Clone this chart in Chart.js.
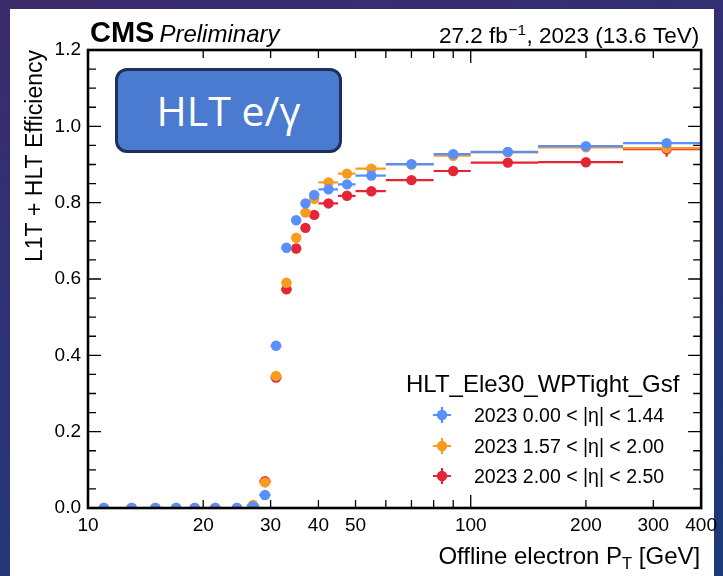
<!DOCTYPE html>
<html><head><meta charset="utf-8">
<script src="https://cdn.jsdelivr.net/npm/chart.js@4.4.1/dist/chart.umd.min.js"></script>
<style>
html,body{margin:0;padding:0;width:723px;height:576px;overflow:hidden;}
body{background:linear-gradient(165deg,#3b2a6c 0%,#2c3277 45%,#1c3a78 100%);position:relative;}
#panel{position:absolute;left:10px;top:9px;width:704px;height:567px;background:#fff;}
#c{position:absolute;left:0;top:0;}
#box{position:absolute;left:115px;top:68px;width:227px;height:85px;box-sizing:border-box;
 border:3px solid #1d3158;border-radius:12px;background:#4a7bd1;color:#fff;
 font-family:"Open Sans",sans-serif;font-size:41px;line-height:79px;text-align:center;}
</style></head><body>
<div id="panel"></div>
<canvas id="c" width="723" height="576"></canvas>
<div id="box">HLT e/γ</div>
<script>
const binEdges   = [10,12,14,16,18,20,23,26,28,30,32,34,36,38,40,45,50,60,80,100,150,250,400];
const binCenters = [11,13,15,17,19,21.5,24.5,27,29,31,33,35,37,39,42.5,47.5,55,70,90,125,200,325];
const effEta1 = [0,0,0,0,0,0,0,0.005,0.034,0.425,0.682,0.754,0.798,0.820,0.835,0.848,0.871,0.901,0.927,0.933,0.948,0.956];
const effEta2 = [0,0,0,0,0,0,0,0.008,0.067,0.346,0.590,0.708,0.774,0.810,0.853,0.876,0.889,0.900,0.923,0.932,0.945,0.943];
const effEta3 = [0,0,0,0,0,0,0,0.003,0.070,0.342,0.573,0.680,0.734,0.768,0.798,0.818,0.830,0.859,0.883,0.905,0.906,0.940];
const errEta1 = [0,0,0,0,0,0,0,0.002,0.004,0.006,0.006,0.005,0.005,0.004,0.003,0.003,0.002,0.002,0.003,0.003,0.005,0.008];
const errEta2 = [0,0,0,0,0,0,0,0.003,0.006,0.009,0.009,0.008,0.007,0.006,0.005,0.005,0.004,0.004,0.005,0.006,0.008,0.012];
const errEta3 = [0,0,0,0,0,0,0,0.002,0.006,0.009,0.009,0.008,0.007,0.006,0.005,0.005,0.004,0.004,0.005,0.006,0.009,0.020];
const seriesLabels = ["2023 0.00 < |η| < 1.44","2023 1.57 < |η| < 2.00","2023 2.00 < |η| < 2.50"];
const seriesColors = ["#5790fc","#f89c20","#e42536"];
const xTickValues = [10,20,30,40,50,60,70,80,90,100,200,300,400];
const xTickLabels = [10,20,30,40,50,100,200,300,400];
const yTickStep = 0.05;
const yMajorStep = 0.2;
const legendTitle = "HLT_Ele30_WPTight_Gsf";

const FONT = '"Liberation Sans", Arial, sans-serif';

function mk(eff, err, i){
  return {label: seriesLabels[i], data: eff.map((v,k)=>({x: binCenters[k], y: v})), yErr: err,
    backgroundColor: seriesColors[i], borderColor: seriesColors[i], pointRadius: 5.2, pointHoverRadius: 5.2,
    pointBorderWidth: 0, showLine: false, clip: 0};
}

const errorBars = {
  id:'errorBars',
  beforeDatasetDraw(chart, args){
    const ds = chart.data.datasets[args.index];
    const xs = chart.scales.x, ys = chart.scales.y, ctx = chart.ctx, a = chart.chartArea;
    ctx.save();
    ctx.beginPath(); ctx.rect(a.left, a.top, a.right-a.left, a.bottom-a.top); ctx.clip();
    ctx.strokeStyle = ds.borderColor; ctx.lineWidth = 2.2;
    ds.data.forEach((p,i)=>{
      const x0 = xs.getPixelForValue(binEdges[i]), x1 = xs.getPixelForValue(binEdges[i+1]);
      const xc = xs.getPixelForValue(p.x), y = ys.getPixelForValue(p.y);
      ctx.beginPath(); ctx.moveTo(x0, y); ctx.lineTo(x1, y); ctx.stroke();
      const e = ds.yErr[i];
      if (e > 0) {
        ctx.beginPath(); ctx.moveTo(xc, ys.getPixelForValue(p.y - e)); ctx.lineTo(xc, ys.getPixelForValue(p.y + e)); ctx.stroke();
      }
    });
    ctx.restore();
  }
};

function isDecade(v){ const l = Math.log10(v); return Math.abs(l - Math.round(l)) < 1e-9; }
function isYMajor(v){ const r = v / yMajorStep; return Math.abs(r - Math.round(r)) < 1e-6; }

const frame = {
  id:'frame',
  afterDraw(chart){
    const ctx = chart.ctx, a = chart.chartArea, xs = chart.scales.x, ys = chart.scales.y;
    ctx.save();
    ctx.strokeStyle = '#000'; ctx.lineWidth = 1.3;
    xs.ticks.forEach(t=>{
      const px = xs.getPixelForValue(t.value);
      if (px <= a.left + 1 || px >= a.right - 1) return;
      const L = isDecade(t.value) ? 13 : 8;
      ctx.beginPath(); ctx.moveTo(px, a.bottom); ctx.lineTo(px, a.bottom - L);
      ctx.moveTo(px, a.top); ctx.lineTo(px, a.top + L); ctx.stroke();
    });
    ys.ticks.forEach(t=>{
      const py = ys.getPixelForValue(t.value);
      if (py <= a.top + 1 || py >= a.bottom - 1) return;
      const L = isYMajor(t.value) ? 13 : 8;
      ctx.beginPath(); ctx.moveTo(a.left, py); ctx.lineTo(a.left + L, py);
      ctx.moveTo(a.right, py); ctx.lineTo(a.right - L, py); ctx.stroke();
    });
    ctx.lineWidth = 2.6;
    ctx.strokeRect(a.left, a.top, a.right - a.left, a.bottom - a.top);

    // header
    ctx.fillStyle = '#000'; ctx.textBaseline = 'alphabetic'; ctx.textAlign = 'left';
    ctx.font = 'bold 29px ' + FONT;
    ctx.fillText('CMS', a.left + 2, 42);
    const wc = ctx.measureText('CMS').width;
    ctx.font = 'italic 24px ' + FONT;
    ctx.fillText('Preliminary', a.left + 2 + wc + 5, 42);

    // lumi
    const p1 = '27.2 fb', sup = '−1', p2 = ', 2023 (13.6 TeV)';
    ctx.font = '22.5px ' + FONT; const w1 = ctx.measureText(p1).width, w2 = ctx.measureText(p2).width;
    ctx.font = '15.5px ' + FONT; const ws = ctx.measureText(sup).width;
    let x = a.right - 3 - w2 - ws - w1;
    ctx.font = '22.5px ' + FONT; ctx.fillText(p1, x, 43); x += w1;
    ctx.font = '15.5px ' + FONT; ctx.fillText(sup, x + 0.5, 35); x += ws + 1;
    ctx.font = '22.5px ' + FONT; ctx.fillText(p2, x, 43);

    // x title
    const t1 = 'Offline electron P', ts = 'T', t2 = ' [GeV]';
    ctx.font = '24px ' + FONT; const a1 = ctx.measureText(t1).width, a2 = ctx.measureText(t2).width;
    ctx.font = '16.5px ' + FONT; const as = ctx.measureText(ts).width;
    x = a.right - 1 - a2 - as - a1;
    ctx.font = '24px ' + FONT; ctx.fillText(t1, x, 564); x += a1;
    ctx.font = '16.5px ' + FONT; ctx.fillText(ts, x, 569); x += as;
    ctx.font = '24px ' + FONT; ctx.fillText(t2, x, 564);

    // legend
    ctx.font = '24px ' + FONT;
    ctx.fillText(legendTitle, 406, 392);
    const rows = [415, 446, 476];
    chart.data.datasets.forEach((ds, i)=>{
      const y = rows[i], mx = 442;
      ctx.strokeStyle = ds.borderColor; ctx.fillStyle = ds.backgroundColor; ctx.lineWidth = 2.2;
      ctx.beginPath(); ctx.moveTo(mx - 9, y); ctx.lineTo(mx + 9, y); ctx.moveTo(mx, y - 8); ctx.lineTo(mx, y + 8); ctx.stroke();
      ctx.beginPath(); ctx.arc(mx, y, 5.2, 0, Math.PI*2); ctx.fill();
      ctx.fillStyle = '#000'; ctx.font = '19.5px ' + FONT;
      ctx.fillText(ds.label, 474, y + 7);
    });
    ctx.restore();
  }
};

new Chart(document.getElementById('c'), {
  type: 'scatter',
  data: { datasets: [ mk(effEta1, errEta1, 0), mk(effEta2, errEta2, 1), mk(effEta3, errEta3, 2) ] },
  options: {
    responsive: false, animation: false, devicePixelRatio: 1,
    layout: { padding: { top: 50, right: 20, left: 0, bottom: 0 } },
    plugins: { legend: { display: false }, tooltip: { enabled: false } },
    scales: {
      x: {
        type: 'logarithmic', min: 10, max: 400,
        afterBuildTicks(s){ s.ticks = xTickValues.map(v=>({value: v})); },
        afterFit(s){ s.height = 68; },
        grid: { display: false, drawTicks: false },
        border: { display: false },
        ticks: { autoSkip: false, maxRotation: 0, padding: 6, color: '#000', font: { family: FONT, size: 19 },
          callback: (v)=> xTickLabels.includes(v) ? String(v) : '' }
      },
      y: {
        min: 0, max: 1.2,
        afterBuildTicks(s){ const t=[]; for (let k=0; k<=Math.round(1.2/yTickStep); k++) t.push({value: +(k*yTickStep).toFixed(4)}); s.ticks = t; },
        afterFit(s){ s.width = 88; },
        grid: { display: false, drawTicks: false },
        border: { display: false },
        title: { display: true, text: 'L1T + HLT Efficiency', align: 'end', color: '#000',
          font: { family: FONT, size: 23 }, padding: { top: 22, bottom: 0 } },
        ticks: { autoSkip: false, padding: 7, color: '#000', font: { family: FONT, size: 19 },
          callback: (v)=> isYMajor(v) ? v.toFixed(1) : '' }
      }
    }
  },
  plugins: [errorBars, frame]
});
</script>
</body></html>
